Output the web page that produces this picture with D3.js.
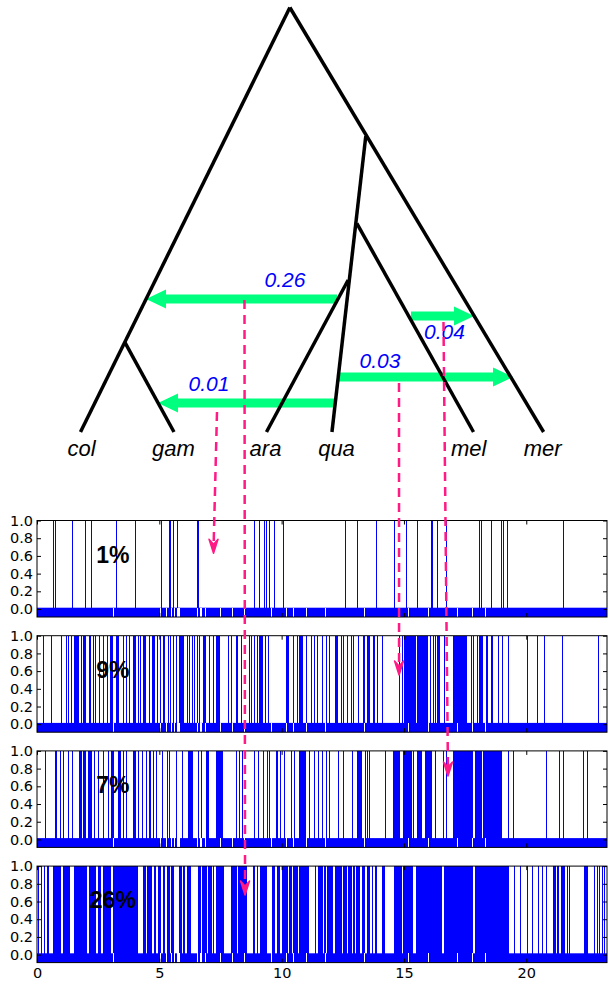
<!DOCTYPE html>
<html>
<head>
<meta charset="utf-8">
<script src="https://cdn.jsdelivr.net/npm/d3@7"></script>
<style>
  html, body { margin: 0; padding: 0; background: #fff; }
  svg { display: block; }
</style>
</head>
<body>
<div id="chart"></div>
<script>
(function () {
  'use strict';

  // ---- tree (x in tree units, height 0 = present, 1 = root) ----
  const leafNames = ['col', 'gam', 'ara', 'qua', 'mel', 'mer'];
  const leafPos = [0.918, 2.618, 4.30, 5.49, 8.064, 9.338];
  const leafLabelPos = [0.936, 2.609, 4.282, 5.573, 7.976, 9.320];
  const nodeNames = ['root', 'colgam', 'right', 'melqua', 'araqua'];
  const nodeX = [4.725, 1.718, 6.105, 5.942, 5.785];
  const nodeH = [1.0, 0.2127, 0.697, 0.4916, 0.358];
  const branches = [['root', 'col'], ['colgam', 'gam'], ['root', 'mer'], ['right', 'qua'], ['melqua', 'mel'], ['araqua', 'ara']];

  // migration edges
  const migLabels = ['0.26', '0.01', '0.03', '0.04'];
  const migFrom = [5.582, 5.564, 5.618, 6.927];
  const migTo = [2.109, 2.327, 8.782, 8.073];
  const migH = [0.3133, 0.0683, 0.1296, 0.2733];
  const migLabelX = [4.636, 3.255, 6.364, 7.536];
  const migLabelH = [0.3416, 0.0966, 0.1508, 0.2191];

  // dashed links from edges down to the panels
  const linkFromX = [3.9, 3.4, 6.709, 7.518];
  const linkFromH = [0.311, 0.047, 0.1154, 0.259];
  const linkPanel = [3, 0, 1, 2];
  const linkToMb = [8.504, 7.216, 14.8, 16.8];
  const linkToVal = [0.673, 0.63, 0.556, 0.716];

  // ---- panels ----
  const panelLabels = ['1%', '9%', '7%', '26%'];
  const xTicks = [0, 5, 10, 15, 20];
  const yTicks = [0.0, 0.2, 0.4, 0.6, 0.8, 1.0];
  const chromLen = 23.3;

  // introgressed tracts, [start, end] in Mb
  const tracts1 = [[0.67,0.67],[0.75,0.79],[1.45,1.45],[1.97,1.97],[2.21,2.21],[3.24,3.24],[4.02,4.02],[5.05,5.05],[5.41,5.46],[5.57,5.57],[5.72,5.72],[6.52,6.64],[8.87,8.91],[9.07,9.07],[9.26,9.26],[9.37,9.37],[9.47,9.47],[9.69,9.69],[10.06,10.06],[12.59,12.59],[13.08,13.08],[13.86,13.86],[14.58,14.65],[15.09,15.09],[15.52,15.52],[16.12,16.19],[16.36,16.36],[16.71,16.71],[18.06,18.06],[18.14,18.14],[18.56,18.56],[18.98,18.98],[19.06,19.06],[19.21,19.21],[21.51,21.51]];

  const tracts2 = [[0.26,0.26],[0.57,0.57],[0.98,0.98],[1.19,1.19],[1.28,1.28],[1.39,1.39],[1.53,1.73],[1.80,1.80],[1.87,1.87],[1.94,2.00],[2.11,2.21],[2.28,2.28],[2.39,2.39],[2.55,2.55],[2.68,2.68],[2.85,2.85],[2.98,3.12],[3.23,3.37],[3.53,3.53],[3.64,3.64],[3.77,3.77],[3.91,4.05],[4.12,4.12],[4.22,4.22],[4.32,4.46],[4.59,4.59],[4.70,4.81],[4.89,4.89],[5.03,5.03],[5.14,5.22],[5.34,5.34],[5.44,5.44],[5.55,5.55],[5.68,5.68],[5.79,6.02],[6.12,6.12],[6.23,6.23],[6.34,6.34],[6.43,6.43],[6.53,6.53],[6.64,6.64],[6.77,6.91],[7.02,7.02],[7.18,7.18],[7.32,7.48],[7.79,7.79],[7.94,7.94],[8.13,8.22],[8.35,8.35],[8.65,8.65],[8.75,8.75],[8.88,8.88],[8.99,8.99],[9.09,9.22],[9.32,9.32],[9.46,9.46],[10.18,10.31],[10.45,10.45],[10.61,10.61],[10.72,10.86],[10.99,10.99],[11.20,11.20],[11.34,11.34],[11.45,11.45],[11.64,11.64],[11.82,11.82],[11.95,11.95],[12.18,12.32],[12.41,12.41],[12.52,12.52],[12.66,12.66],[12.84,12.84],[12.93,12.93],[13.11,13.18],[13.31,13.41],[13.48,13.61],[13.72,13.82],[13.89,13.95],[14.09,14.09],[14.80,14.80],[14.90,14.90],[15.02,15.50],[15.55,16.00],[16.05,16.05],[16.17,16.17],[16.27,16.27],[16.37,16.47],[16.64,16.64],[16.99,17.56],[17.73,17.73],[17.84,17.84],[17.97,17.97],[18.08,18.25],[18.35,18.45],[18.55,18.65],[18.86,18.86],[19.00,19.00],[19.25,19.25],[20.04,20.04],[20.43,20.43],[20.73,20.73],[21.45,21.45],[22.95,22.95]];

  const tracts3 = [[0.34,0.34],[0.74,0.80],[0.94,0.94],[1.05,1.05],[1.25,1.25],[1.43,1.43],[1.73,1.84],[1.87,2.00],[2.07,2.07],[2.14,2.25],[2.34,2.34],[2.48,2.48],[2.68,2.68],[2.89,2.89],[3.03,3.16],[3.30,3.43],[3.53,3.53],[3.64,3.64],[3.91,4.05],[4.12,4.12],[4.29,4.29],[4.46,4.46],[4.59,4.66],[4.76,4.76],[4.86,4.86],[5.11,5.11],[5.30,5.30],[5.41,5.41],[5.68,5.68],[5.93,5.93],[6.16,6.36],[6.60,6.60],[6.70,6.70],[6.91,7.04],[7.32,7.59],[8.13,8.13],[8.27,8.27],[8.38,8.38],[8.88,8.88],[9.05,9.05],[9.22,9.22],[9.39,9.39],[9.50,9.50],[9.77,9.84],[9.95,9.95],[10.11,10.11],[10.38,10.38],[10.52,10.52],[10.72,11.00],[11.13,11.13],[11.34,11.34],[11.47,11.47],[11.64,11.64],[11.82,11.82],[11.95,11.95],[12.32,12.32],[12.52,12.52],[12.89,12.89],[13.10,13.27],[13.41,13.41],[13.50,13.50],[13.59,13.59],[14.23,14.23],[14.54,14.84],[14.98,15.32],[15.38,15.38],[15.52,15.73],[15.86,16.13],[16.27,16.27],[16.61,16.61],[16.72,16.72],[17.02,17.84],[17.90,18.18],[18.25,19.00],[19.27,19.27],[19.44,19.44],[20.81,20.81],[21.35,21.35],[21.52,21.52],[22.33,22.33],[22.47,22.47]];

  const tracts4 = [[0.05,0.09],[0.16,0.20],[0.27,0.32],[0.40,0.50],[0.66,0.98],[1.06,1.36],[1.52,2.06],[2.14,2.42],[2.49,2.60],[2.68,3.04],[3.12,4.12],[4.34,4.45],[4.51,4.72],[4.78,4.88],[4.94,5.08],[5.14,5.24],[5.30,5.43],[5.49,5.62],[5.81,5.91],[5.97,6.06],[6.12,6.30],[6.57,6.70],[6.76,6.94],[7.00,7.14],[7.20,7.25],[7.31,7.65],[7.91,8.16],[8.22,8.60],[8.82,8.92],[8.98,9.04],[9.10,9.39],[9.61,9.74],[9.80,9.95],[10.01,10.26],[10.32,10.42],[10.48,10.66],[10.72,11.13],[11.35,11.42],[11.48,11.68],[11.73,11.82],[11.87,12.09],[12.18,12.46],[12.52,12.66],[12.73,12.86],[12.93,13.00],[13.04,13.20],[13.27,13.41],[13.48,13.61],[13.68,13.75],[13.82,13.89],[14.09,14.23],[14.59,14.91],[14.98,15.38],[15.49,16.54],[16.64,17.84],[17.90,19.31],[19.51,19.51],[19.74,19.74],[20.02,20.02],[20.22,20.22],[20.49,20.49],[20.63,20.70],[20.81,20.81],[21.08,21.22],[21.27,21.35],[21.41,21.58],[21.68,21.68],[21.76,21.76],[22.37,22.51],[22.77,22.77],[22.88,22.88],[22.99,22.99],[23.08,23.08],[23.18,23.18]];

  // gaps in the callable band under every panel
  const bandGaps = [[3.09,3.13],[5.03,5.08],[5.27,5.32],[5.48,5.53],[5.62,5.66],[5.73,5.83],[6.55,6.58],[6.68,6.75],[6.87,6.91],[7.47,7.51],[7.98,8.02],[8.48,8.52],[9.56,9.60],[10.16,10.20],[10.46,10.50],[10.98,11.02],[11.78,11.82],[13.36,13.40],[15.18,15.22],[15.98,16.02],[17.17,17.21],[17.80,17.84],[18.31,18.36]];

  const tractSets = [tracts1, tracts2, tracts3, tracts4];

  const W = 608, H = 982;
  const BLUE = '#0000ff', GREEN = '#00ff7f', PINK = '#ff1a85';

  const svg = d3.select('#chart').append('svg')
    .attr('width', W).attr('height', H);

  const tx = d3.scaleLinear().domain([0, 10]).range([30, 580]);
  const ty = d3.scaleLinear().domain([0, 1]).range([432, 7.5]);

  const x = d3.scaleLinear().domain([0, chromLen]).range([37, 607]);
  const panelH = 96.5;
  const panelTop = (i) => 520.5 + i * 115.2;
  const yScales = panelLabels.map((_, i) =>
    d3.scaleLinear().domain([-0.09, 1]).range([panelTop(i) + panelH, panelTop(i)]));

  // ---- panels ----
  tractSets.forEach((tracts, i) => {
    const y = yScales[i];
    const g = svg.append('g');

    g.selectAll('rect.tract').data(tracts).enter().append('rect')
      .attr('class', 'tract')
      .attr('x', (d) => x(d[0]))
      .attr('width', (d) => Math.max(1, x(d[1]) - x(d[0])))
      .attr('y', y(1))
      .attr('height', y(0) - y(1))
      .attr('fill', BLUE)
      .attr('shape-rendering', 'crispEdges');

    g.append('rect')
      .attr('x', x(0)).attr('width', x(chromLen) - x(0))
      .attr('y', y(0.015)).attr('height', y(-0.09) - y(0.015))
      .attr('fill', BLUE);

    g.selectAll('rect.gap').data(bandGaps).enter().append('rect')
      .attr('class', 'gap')
      .attr('x', (d) => x(d[0]))
      .attr('width', (d) => Math.max(1, x(d[1]) - x(d[0])))
      .attr('y', y(0.015))
      .attr('height', y(-0.09) - y(0.015))
      .attr('fill', '#fff')
      .attr('shape-rendering', 'crispEdges');

    const left = g.append('g').attr('transform', `translate(${x(0)},0)`)
      .call(d3.axisLeft(y).tickValues(yTicks).tickFormat(d3.format('.1f'))
        .tickSizeInner(-4).tickSizeOuter(0).tickPadding(4));
    const right = g.append('g').attr('transform', `translate(${x(chromLen)},0)`)
      .call(d3.axisRight(y).tickValues(yTicks).tickFormat('')
        .tickSizeInner(-4).tickSizeOuter(0));
    const top = g.append('g').attr('transform', `translate(0,${y(1)})`)
      .call(d3.axisTop(x).tickValues(xTicks).tickFormat('')
        .tickSizeInner(-4).tickSizeOuter(0));
    const bottom = g.append('g').attr('transform', `translate(0,${y(-0.09)})`)
      .call(d3.axisBottom(x).tickValues(xTicks)
        .tickFormat(i === 3 ? d3.format('d') : '')
        .tickSizeInner(-4).tickSizeOuter(0).tickPadding(5));

    [left, right, top, bottom].forEach((a) => {
      a.select('.domain').remove();
      a.selectAll('.tick line').attr('stroke', '#000');
      a.selectAll('text')
        .attr('fill', '#000')
        .style('font-family', '"DejaVu Sans", sans-serif')
        .style('font-size', '14.5px');
    });

    g.append('rect')
      .attr('x', x(0)).attr('y', y(1))
      .attr('width', x(chromLen) - x(0)).attr('height', y(-0.09) - y(1))
      .attr('fill', 'none').attr('stroke', '#000').attr('stroke-width', 1);

    g.append('text')
      .attr('x', x(3.1)).attr('y', y(0.525))
      .attr('text-anchor', 'middle')
      .style('font-family', '"Liberation Sans", Arial, sans-serif')
      .style('font-weight', 'bold')
      .style('font-size', '23px')
      .attr('fill', '#000')
      .text(panelLabels[i]);
  });

  // ---- tree ----
  const tree = svg.append('g');
  const pos = {};
  leafNames.forEach((n, i) => { pos[n] = [leafPos[i], 0]; });
  nodeNames.forEach((n, i) => { pos[n] = [nodeX[i], nodeH[i]]; });

  // migration arrows (under the branches)
  function arrowPath(x0, x1, yy) {
    const sw = 4.5, hw = 9.5, hl = 20;
    const dir = x1 > x0 ? 1 : -1;
    const xb = x1 - dir * hl;
    return `M${x0},${yy - sw}L${xb},${yy - sw}L${xb},${yy - hw}L${x1},${yy}` +
      `L${xb},${yy + hw}L${xb},${yy + sw}L${x0},${yy + sw}Z`;
  }
  tree.selectAll('path.mig').data(migLabels).enter().append('path')
    .attr('class', 'mig')
    .attr('d', (d, i) => arrowPath(tx(migFrom[i]), tx(migTo[i]), ty(migH[i])))
    .attr('fill', GREEN);

  tree.selectAll('line.branch').data(branches).enter().append('line')
    .attr('class', 'branch')
    .attr('x1', (d) => tx(pos[d[0]][0])).attr('y1', (d) => ty(pos[d[0]][1]))
    .attr('x2', (d) => tx(pos[d[1]][0])).attr('y2', (d) => ty(pos[d[1]][1]))
    .attr('stroke', '#000').attr('stroke-width', 3.5);

  tree.selectAll('text.leaf').data(leafNames).enter().append('text')
    .attr('class', 'leaf')
    .attr('x', (d, i) => tx(leafLabelPos[i]))
    .attr('y', 456)
    .attr('text-anchor', 'middle')
    .style('font-family', '"Liberation Sans", Arial, sans-serif')
    .style('font-style', 'italic')
    .style('font-size', '22px')
    .attr('fill', '#000')
    .text((d) => d);

  tree.selectAll('text.mig').data(migLabels).enter().append('text')
    .attr('class', 'mig')
    .attr('x', (d, i) => tx(migLabelX[i]))
    .attr('y', (d, i) => ty(migLabelH[i]))
    .attr('text-anchor', 'middle')
    .style('font-family', '"Liberation Sans", Arial, sans-serif')
    .style('font-style', 'italic')
    .style('font-size', '21px')
    .attr('fill', BLUE)
    .text((d) => d);

  // ---- dashed pink links ----
  const links = svg.append('g');
  linkPanel.forEach((p, i) => {
    const x0 = tx(linkFromX[i]), y0 = ty(linkFromH[i]);
    const x1 = x(linkToMb[i]), y1 = yScales[p](linkToVal[i]);
    links.append('line')
      .attr('x1', x0).attr('y1', y0).attr('x2', x1).attr('y2', y1 - 4)
      .attr('stroke', PINK).attr('stroke-width', 2.5)
      .attr('stroke-dasharray', '9,6');
    links.append('path')
      .attr('d', `M${x1},${y1}L${x1 - 4.5},${y1 - 14}L${x1},${y1 - 9}L${x1 + 4.5},${y1 - 14}Z`)
      .attr('fill', PINK).attr('stroke', PINK).attr('stroke-width', 1.5)
      .attr('stroke-linejoin', 'round');
  });
})();
</script>
</body>
</html>
